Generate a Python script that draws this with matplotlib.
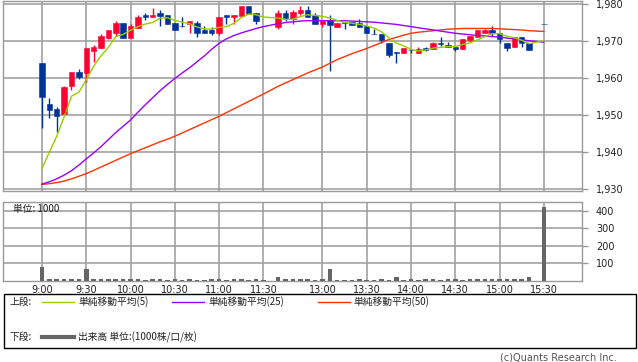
import matplotlib
matplotlib.use("Agg")
import matplotlib.pyplot as plt
from matplotlib.lines import Line2D
from matplotlib.patches import Rectangle

plt.rcParams['font.family'] = ['DejaVu Sans', 'Noto Sans CJK JP']

# ---------------- data ----------------
times = ["9:00", "9:05", "9:10", "9:15", "9:20", "9:25", "9:30", "9:35", "9:40", "9:45",
         "9:50", "9:55", "10:00", "10:05", "10:10", "10:15", "10:20", "10:25", "10:30", "10:35",
         "10:40", "10:45", "10:50", "10:55", "11:00", "11:05", "11:10", "11:15", "11:20", "11:25",
         "11:30",
         "12:30", "12:35", "12:40", "12:45", "12:50", "12:55", "13:00", "13:05", "13:10", "13:15",
         "13:20", "13:25", "13:30", "13:35", "13:40", "13:45", "13:50", "13:55", "14:00", "14:05",
         "14:10", "14:15", "14:20", "14:25", "14:30", "14:35", "14:40", "14:45", "14:50", "14:55",
         "15:00", "15:05", "15:10", "15:15", "15:20",
         "15:30"]

opens = [1964.0, 1953.0, 1951.6, 1950.2, 1957.8, 1961.6, 1961.4, 1967.3, 1968.2, 1970.9,
         1972.2, 1974.9, 1970.9, 1973.4, 1977.1, 1976.4, 1977.6, 1977.0, 1974.9, 1974.2,
         1974.5, 1974.8, 1973.0, 1973.0, 1972.3, 1977.0, 1976.4, 1976.8, 1979.5, 1977.6,
         1974.2,
         1973.9, 1977.6, 1975.9, 1977.6, 1978.4, 1977.0, 1974.6, 1975.7, 1973.9, 1975.2,
         1975.1, 1974.9, 1974.1, 1972.0, 1971.9, 1969.5, 1967.1, 1966.8, 1967.7, 1966.8,
         1968.0, 1967.9, 1969.5, 1969.0, 1968.5, 1967.9, 1970.3, 1971.0, 1972.2, 1973.0,
         1972.1, 1969.5, 1968.3, 1971.0, 1969.4,
         1974.5]
highs = [1964.0, 1954.6, 1952.2, 1957.9, 1961.6, 1962.4, 1968.1, 1969.0, 1971.9, 1973.0,
         1975.4, 1974.9, 1974.7, 1977.1, 1977.6, 1978.9, 1978.4, 1977.0, 1974.9, 1976.6,
         1975.3, 1975.3, 1974.1, 1973.9, 1976.4, 1977.0, 1977.0, 1979.5, 1979.5, 1977.6,
         1974.2,
         1978.4, 1978.4, 1978.4, 1979.5, 1979.5, 1977.6, 1975.5, 1977.1, 1974.9, 1975.2,
         1975.1, 1976.0, 1974.1, 1973.3, 1971.9, 1969.5, 1967.1, 1968.1, 1967.7, 1968.4,
         1968.3, 1969.7, 1971.2, 1969.7, 1968.5, 1970.6, 1971.5, 1973.0, 1973.3, 1974.1,
         1972.1, 1969.5, 1971.2, 1971.0, 1969.4,
         1974.5]
lows = [1946.4, 1949.1, 1945.5, 1950.2, 1956.8, 1959.7, 1959.0, 1964.4, 1968.2, 1970.5,
        1971.4, 1970.9, 1970.9, 1973.4, 1975.7, 1976.4, 1974.0, 1974.6, 1972.9, 1973.9,
        1972.2, 1971.1, 1972.2, 1971.7, 1971.7, 1974.6, 1974.5, 1976.8, 1977.2, 1974.7,
        1974.0,
        1973.3, 1975.3, 1974.6, 1977.0, 1976.4, 1974.6, 1973.9, 1962.0, 1973.9, 1973.3,
        1974.4, 1973.9, 1972.2, 1971.8, 1969.5, 1965.8, 1964.0, 1966.8, 1966.8, 1966.8,
        1967.2, 1967.9, 1968.6, 1968.3, 1967.4, 1967.9, 1969.7, 1971.0, 1972.2, 1971.5,
        1969.4, 1967.4, 1968.3, 1968.3, 1967.6,
        1974.5]
closes = [1955.0, 1951.4, 1949.8, 1957.5, 1961.6, 1960.3, 1968.1, 1968.4, 1971.4, 1973.0,
          1974.8, 1970.9, 1974.1, 1976.6, 1976.4, 1977.1, 1976.8, 1974.6, 1972.9, 1974.0,
          1975.3, 1972.2, 1972.2, 1972.2, 1976.4, 1976.4, 1977.0, 1979.5, 1977.2, 1975.3,
          1974.0,
          1977.6, 1976.2, 1977.8, 1978.4, 1976.4, 1974.6, 1975.5, 1974.3, 1974.9, 1975.0,
          1974.4, 1973.9, 1972.2, 1971.8, 1970.3, 1966.3, 1966.9, 1968.1, 1967.5, 1967.9,
          1967.6, 1969.4, 1969.3, 1968.3, 1967.9, 1970.6, 1971.5, 1973.0, 1973.0, 1972.1,
          1970.5, 1968.1, 1971.0, 1969.5, 1967.6,
          1974.5]
ma5 = [1935.6, 1940.0, 1944.3, 1949.5, 1955.1, 1956.2, 1959.5, 1963.2, 1966.0, 1968.3,
       1971.2, 1971.8, 1972.9, 1973.9, 1974.6, 1975.0, 1976.2, 1976.3, 1975.6, 1975.1,
       1974.7, 1973.8, 1973.3, 1973.2, 1973.7, 1973.9, 1974.8, 1976.3, 1977.3, 1977.1,
       1976.5,
       1976.2, 1975.8, 1975.9, 1976.6, 1977.1, 1976.9, 1976.7, 1976.2, 1975.6, 1975.0,
       1974.8, 1974.5, 1974.1, 1973.5, 1972.5, 1970.9, 1969.5, 1968.7, 1967.8, 1967.3,
       1967.6, 1968.1, 1968.3, 1968.5, 1968.5, 1969.1, 1969.5, 1970.3, 1971.2, 1972.0,
       1972.0, 1971.3, 1970.9, 1970.2, 1969.3,
       1970.1]
ma25 = [1931.4, 1932.0, 1932.8, 1933.8, 1935.0, 1936.5, 1938.2, 1939.8, 1941.5, 1943.4,
        1945.3, 1947.0, 1948.7, 1950.8, 1952.8, 1954.7, 1956.6, 1958.3, 1959.9, 1961.4,
        1962.8, 1964.4, 1966.0, 1967.8, 1969.4, 1970.6, 1971.5, 1972.2, 1972.8, 1973.4,
        1973.9,
        1974.7, 1975.0, 1975.2, 1975.4, 1975.5, 1975.5, 1975.5, 1975.5, 1975.5, 1975.5,
        1975.4, 1975.3, 1975.2, 1975.1, 1974.9, 1974.7, 1974.5, 1974.2, 1973.9, 1973.6,
        1973.3, 1973.0, 1972.7, 1972.4, 1972.1, 1971.9, 1971.7, 1971.5, 1971.4, 1971.2,
        1971.1, 1970.8, 1970.6, 1970.3, 1970.1,
        1969.7]
ma50 = [1931.3, 1931.5, 1931.8, 1932.2, 1932.8, 1933.5, 1934.2, 1935.1, 1936.0, 1936.9,
        1937.8, 1938.7, 1939.6, 1940.4, 1941.2, 1942.0, 1942.8, 1943.5, 1944.3, 1945.2,
        1946.1, 1947.0, 1947.9, 1948.8, 1949.7, 1950.7, 1951.7, 1952.7, 1953.7, 1954.7,
        1955.7,
        1957.8, 1958.7, 1959.6, 1960.5, 1961.4, 1962.2, 1963.0, 1964.0, 1965.0, 1965.8,
        1966.6, 1967.3, 1968.0, 1968.8, 1969.6, 1970.4, 1971.0, 1971.6, 1972.1, 1972.4,
        1972.6, 1972.8, 1973.0, 1973.2, 1973.3, 1973.4, 1973.4, 1973.4, 1973.4, 1973.4,
        1973.3, 1973.2, 1973.1, 1973.0, 1972.8,
        1972.6]
volume = [78, 8, 8, 8, 8, 12, 65, 12, 12, 8,
          8, 8, 8, 12, 3, 12, 8, 3, 8, 3,
          8, 3, 3, 8, 8, 3, 12, 8, 3, 8,
          3,
          20, 10, 10, 10, 10, 5, 10, 67, 2, 2,
          2, 8, 3, 3, 8, 3, 20, 3, 8, 3,
          8, 8, 3, 8, 8, 3, 8, 8, 8, 8,
          8, 8, 13, 8, 20,
          423]

tick_labels = ["9:00", "9:30", "10:00", "10:30", "11:00", "11:30",
               "13:00", "13:30", "14:00", "14:30", "15:00", "15:30"]
price_ticks = [1930, 1940, 1950, 1960, 1970, 1980]
vol_ticks = [100, 200, 300, 400]


def slot(t):
    h, m = map(int, t.split(":"))
    mins = h * 60 + m
    if mins <= 11 * 60 + 30:
        return (mins - 540) / 5
    return (mins - 750) / 5 + 32


xs = [slot(t) for t in times]
xt = [slot(t) for t in tick_labels]

UP = "#ff0033"
DOWN = "#003399"
GRID = "#9a9a9a"

W, H = 638, 362
fig = plt.figure(figsize=(W / 100, H / 100), dpi=100)


def fx(px):
    return px / W


def fy(py):
    return 1 - py / H


ax = fig.add_axes([fx(3.3), fy(190.7), fx(582 - 3.3), (190.7 - 0.7) / H])
axv = fig.add_axes([fx(3.3), fy(280.8), fx(582 - 3.3), (280.8 - 202.3) / H])

for a in (ax, axv):
    a.set_xlim(-5.24, 73.17)
    a.set_xticks(xt)
    for s in a.spines.values():
        s.set_color(GRID)
        s.set_linewidth(1.0)
    a.grid(True, color=GRID, linewidth=1.1)
    a.set_axisbelow(True)
    a.yaxis.tick_right()
    a.tick_params(axis="y", colors=GRID, labelcolor="#222222", length=4, width=1,
                  labelsize=7, pad=6)

# ---------------- price panel ----------------
ax.set_ylim(1929.6, 1980.9)
ax.set_yticks(price_ticks)
ax.set_yticklabels([f"{v:,}" for v in price_ticks])
ax.tick_params(axis="x", length=0, labelbottom=False)

for x, o, h, l, c in zip(xs, opens, highs, lows, closes):
    col = UP if c > o else DOWN
    ax.vlines(x, l, h, color=col, linewidth=1.0, zorder=3)
    ax.bar(x, max(abs(c - o), 0.12), bottom=min(o, c), width=0.74, color=col,
           edgecolor=col, linewidth=0.4, zorder=4)

ax.plot(xs, ma50, color="#ff3300", linewidth=1.0, zorder=5)
ax.plot(xs, ma25, color="#9900ff", linewidth=1.0, zorder=5)
ax.plot(xs, ma5, color="#99cc00", linewidth=1.0, zorder=6)

# ---------------- volume panel ----------------
axv.set_ylim(0, 448)
axv.set_yticks(vol_ticks)
axv.bar(xs, volume, width=0.62, color="#666666", zorder=3)
axv.set_xticklabels(tick_labels)
axv.tick_params(axis="x", length=0, labelsize=7, labelcolor="#222222", pad=3)
axv.text(fx(12) / fx(582 - 3.3) * 0 + 0.016, 0.915, "単位: 1000", transform=axv.transAxes,
         fontsize=7, va="center", ha="left", color="#222222",
         family=["Noto Sans CJK JP", "DejaVu Sans"])

# ---------------- legend box ----------------
fig.patches.append(Rectangle((fx(3.5), fy(348)), fx(636 - 3.5), (348 - 294) / H,
                             transform=fig.transFigure, fill=False,
                             edgecolor="#000000", linewidth=1.0))
jp = ["Noto Sans CJK JP", "DejaVu Sans"]
fig.text(fx(10), fy(302), "上段:", fontsize=7, va="center", ha="left", family=jp, color="#222222")
fig.text(fx(10), fy(337), "下段:", fontsize=7, va="center", ha="left", family=jp, color="#222222")

legend_items = [("#99cc00", 42, 74, "単純移動平均(5)", 78),
                ("#9900ff", 172, 204, "単純移動平均(25)", 208),
                ("#ff3300", 318, 350, "単純移動平均(50)", 353)]
for col, x0, x1, label, tx in legend_items:
    fig.lines.append(Line2D([fx(x0), fx(x1)], [fy(302), fy(302)], color=col,
                            linewidth=1.0, transform=fig.transFigure))
    fig.text(fx(tx), fy(302), label, fontsize=7, va="center", ha="left", family=jp,
             color="#222222")

fig.lines.append(Line2D([fx(42), fx(74)], [fy(337), fy(337)], color="#666666",
                        linewidth=3.0, transform=fig.transFigure))
fig.text(fx(78), fy(337), "出来高 単位:(1000株/口/枚)", fontsize=7, va="center", ha="left",
         family=jp, color="#222222")

fig.text(fx(617), fy(357), "(c)Quants Research Inc.", fontsize=7, va="center", ha="right",
         color="#555555")

fig.savefig("out.png", dpi=100)
